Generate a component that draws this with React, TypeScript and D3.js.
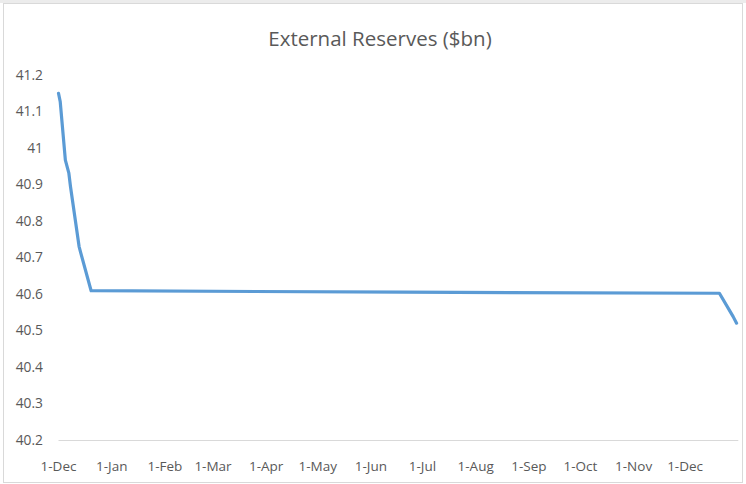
import React from "react";
import * as d3 from "d3";

// Daily external reserves readings, in billions of US dollars
const dates: string[] = [
  "2016-12-01",
  "2016-12-02",
  "2016-12-05",
  "2016-12-07",
  "2016-12-08",
  "2016-12-13",
  "2016-12-14",
  "2016-12-20",
  "2017-06-20",
  "2017-12-21",
  "2017-12-29",
  "2017-12-31",
];
const reserves: number[] = [
  41.15, 41.127, 40.967, 40.932, 40.894, 40.73, 40.712, 40.609, 40.605,
  40.602, 40.538, 40.52,
];

const axisStart = "2016-12-01";
const axisEnd = "2018-01-01";
const yTicks: number[] = [40.2, 40.3, 40.4, 40.5, 40.6, 40.7, 40.8, 40.9, 41, 41.1, 41.2];
const title = "External Reserves ($bn)";

const W = 746;
const H = 484;
const FONT = "'Open Sans', 'Liberation Sans', sans-serif";

export default function App() {
  const parse = d3.timeParse("%Y-%m-%d");
  const points = dates.map((d, i) => ({ date: parse(d) as Date, value: reserves[i] }));

  const x = d3
    .scaleTime()
    .domain([parse(axisStart) as Date, parse(axisEnd) as Date])
    .range([58.5, 738.3]);
  const y = d3.scaleLinear().domain([40.2, 41.2]).range([440, 75]);

  const monthTicks = d3.timeMonth.range(parse(axisStart) as Date, parse("2017-12-02") as Date);
  const fmt = d3.timeFormat("%-d-%b");

  const line = d3
    .line<{ date: Date; value: number }>()
    .x((d) => x(d.date))
    .y((d) => y(d.value));

  return (
    <svg
      width={W}
      height={H}
      style={{ position: "absolute", left: 0, top: 0, background: "#ffffff" }}
      fontFamily={FONT}
    >
      <rect x={0} y={0} width={W} height={3} fill="#ececec" />
      <rect x={3.5} y={3.5} width={W - 7} height={H - 5} fill="#ffffff" stroke="#d9d9d9" />

      <text x={380} y={46} textAnchor="middle" fontSize={20.5} fill="#595959">
        {title}
      </text>

      {/* horizontal axis baseline */}
      <line x1={x.range()[0]} x2={x.range()[1]} y1={440.5} y2={440.5} stroke="#d9d9d9" strokeWidth={1} />

      {yTicks.map((t) => (
        <text
          key={t}
          x={43}
          y={y(t)}
          dy="0.35em"
          textAnchor="end"
          fontSize={13.8}
          fill="#595959"
        >
          {+t.toFixed(1) + ""}
        </text>
      ))}

      {monthTicks.map((m) => (
        <text
          key={m.getTime()}
          x={x(m)}
          y={466}
          dy="0.35em"
          textAnchor="middle"
          fontSize={13.5}
          fill="#595959"
        >
          {fmt(m)}
        </text>
      ))}

      <path
        d={line(points) || ""}
        fill="none"
        stroke="#5b9bd5"
        strokeWidth={3.2}
        strokeLinejoin="round"
        strokeLinecap="round"
      />
    </svg>
  );
}
